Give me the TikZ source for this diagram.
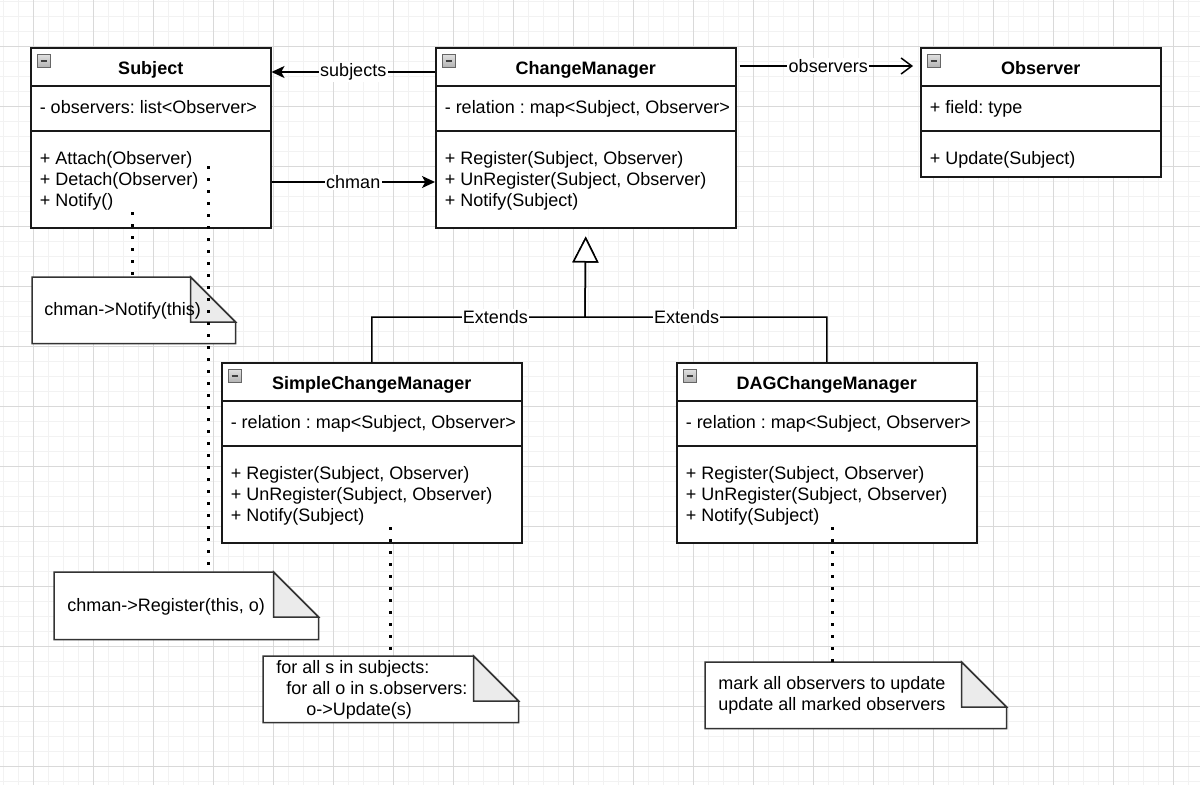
\documentclass[tikz,border=0pt]{standalone}
\usepackage{fontspec}
\setmainfont{Liberation Sans}
\usetikzlibrary{arrows.meta}
\frenchspacing

\newcommand{\umlfont}{\fontsize{13.5}{15.75}\selectfont}

\tikzset{
  gridminor/.style={draw=black!5, line width=0.75pt},
  gridmajor/.style={draw=black!15, line width=0.75pt},
  classbox/.style={draw=black!90, line width=1.125pt, fill=white, inner sep=0pt, anchor=north west},
  classline/.style={draw=black!90, line width=1.125pt},
  collapse/.style={draw=gray!80!black, line width=0.6pt, top color=gray!25, bottom color=gray!60,
    minimum size=9.5pt, inner sep=0pt,
    path picture={\draw[line width=1.5pt, black!75]
      ([xshift=-2.6pt]path picture bounding box.center) -- ([xshift=2.6pt]path picture bounding box.center);}},
  classtitle/.style={font=\umlfont\bfseries, anchor=base, inner sep=0pt},
  member/.style={font=\umlfont, anchor=base west, align=left, inner sep=0pt},
  notebox/.style={anchor=north west, inner sep=0pt},
  noteline/.style={draw=black!80, line width=1.125pt, fill=white},
  fold/.style={draw=black!80, line width=1.125pt, fill=black!8},
  dotline/.style={line width=2.25pt, dash pattern=on 2.25pt off 6.75pt},
  assoc/.style={draw, line width=1.125pt, -{Stealth[length=9.75pt, width=9pt, inset=2.5pt]}},
  navig/.style={draw, line width=1.125pt, -{Straight Barb[length=8pt, width=12pt]},
    shorten <=2.25pt, shorten >=5.25pt},
  extends/.style={draw, line width=1.125pt,
    -{Triangle[open, fill=white, length=19.5pt, width=19.5pt]}, shorten >=6pt},
  lbl/.style={font=\umlfont, fill=white, inner sep=1pt},
}

\begin{document}
\begin{tikzpicture}[x=0.75pt, y=-0.75pt]
\useasboundingbox (0,0) rectangle (1200,785);

% grid
\foreach \x in {3,18,...,1200} \draw[gridminor] (\x,0) -- (\x,785);
\foreach \y in {1,16,...,785} \draw[gridminor] (0,\y) -- (1200,\y);
\foreach \x in {33,93,...,1200} \draw[gridmajor] (\x,0) -- (\x,785);
\foreach \y in {46,106,...,785} \draw[gridmajor] (0,\y) -- (1200,\y);

% classes
\node[classbox, minimum width=180pt, minimum height=135pt] (subject) at (30,47) {};
\node[classbox, minimum width=225pt, minimum height=135pt] (cm) at (435,47) {};
\node[classbox, minimum width=180pt, minimum height=96.75pt] (observer) at (920,47) {};
\node[classbox, minimum width=225pt, minimum height=135pt] (scm) at (221,362) {};
\node[classbox, minimum width=225pt, minimum height=135pt] (dag) at (676,362) {};

\foreach \c/\t in {subject/47, cm/47, observer/47, scm/362, dag/362} {
  \draw[classline] (\c.west |- 0,\t+39) -- (\c.east |- 0,\t+39);
  \draw[classline] (\c.west |- 0,\t+84) -- (\c.east |- 0,\t+84);
  \node[collapse] (\c-icon) at ([xshift=10.5pt, yshift=-10.5pt]\c.north west) {};
}

\node[classtitle] (subject-title) at (subject.north |- 0,74) {Subject};
\node[member] (subject-attr) at (39.5,113) {- observers: list<Observer>};
\node[member] (subject-ops) at (39.5,206) {+ Attach(Observer)\\+ Detach(Observer)\\+ Notify()};

\node[classtitle] (cm-title) at (cm.north |- 0,74) {ChangeManager};
\node[member] (cm-attr) at (444.5,113) {- relation : map<Subject, Observer>};
\node[member] (cm-ops) at (444.5,206) {+ Register(Subject, Observer)\\+ UnRegister(Subject, Observer)\\+ Notify(Subject)};

\node[classtitle] (observer-title) at (observer.north |- 0,74) {Observer};
\node[member] (observer-attr) at (929.5,113) {+ field: type};
\node[member] (observer-ops) at (929.5,164) {+ Update(Subject)};

\node[classtitle] (scm-title) at (scm.north |- 0,389) {SimpleChangeManager};
\node[member] (scm-attr) at (230.5,428) {- relation : map<Subject, Observer>};
\node[member] (scm-ops) at (230.5,521) {+ Register(Subject, Observer)\\+ UnRegister(Subject, Observer)\\+ Notify(Subject)};

\node[classtitle] (dag-title) at (dag.north |- 0,389) {DAGChangeManager};
\node[member] (dag-attr) at (685.5,428) {- relation : map<Subject, Observer>};
\node[member] (dag-ops) at (685.5,521) {+ Register(Subject, Observer)\\+ UnRegister(Subject, Observer)\\+ Notify(Subject)};

% notes
\node[notebox, minimum width=152.25pt, minimum height=49.5pt] (notifynote) at (32,277) {};
\node[notebox, minimum width=198pt, minimum height=50.25pt] (registernote) at (54,572) {};
\node[notebox, minimum width=191.25pt, minimum height=49.5pt] (simplenote) at (263,656) {};
\node[notebox, minimum width=225.75pt, minimum height=49.5pt] (dagnote) at (705,662) {};

\foreach \n in {notifynote, registernote, simplenote, dagnote} {
  \draw[noteline] (\n.north west) -- ([xshift=-33.75pt]\n.north east) -- ([yshift=-33.75pt]\n.north east)
    -- (\n.south east) -- (\n.south west) -- cycle;
  \draw[fold] ([xshift=-33.75pt]\n.north east) -- ([yshift=-33.75pt]\n.north east)
    -- ([xshift=-33.75pt, yshift=-33.75pt]\n.north east) -- cycle;
}

\node[member] (notifytext) at (44,315) {chman->Notify(this)};
\node[member] (registertext) at (67,611) {chman->Register(this, o)};
\node[member] (simpletext) at (276,715) {for all s in subjects:\\\hspace*{7.5pt}for all o in s.observers:\\\hspace*{22.5pt}o->Update(s)};
\node[member] (dagtext) at (718,710) {mark all observers to update\\update all marked observers};

% note anchors
\coordinate (notifyop) at (132,212);
\coordinate (attachop) at (208,166);
\coordinate (simpleop) at (390,527);
\coordinate (dagop) at (832,527);

\draw[dotline] (notifyop) -- (notifyop |- notifynote.north);
\draw[dotline] (attachop) -- (attachop |- registernote.north);
\draw[dotline] (simpleop) -- (simpleop |- simplenote.north);
\draw[dotline] (dagop) -- (dagop |- dagnote.north);

% associations
\draw[assoc] (cm.west |- 0,72) -- node[lbl] {subjects} (subject.east |- 0,72);
\draw[assoc] (subject.east |- 0,182) -- node[lbl] {chman} (cm.west |- 0,182);
\draw[navig] (cm.east |- 0,66) -- node[lbl] {observers} (observer.west |- 0,66);

% inheritance
\coordinate (split) at (585,317);
\draw[extends] (scm.north) |- node[lbl, pos=0.79] {Extends} (split) -- (cm.south);
\draw[extends] (dag.north) |- node[lbl, pos=0.79] {Extends} (split) -- (cm.south);

\end{tikzpicture}
\end{document}
